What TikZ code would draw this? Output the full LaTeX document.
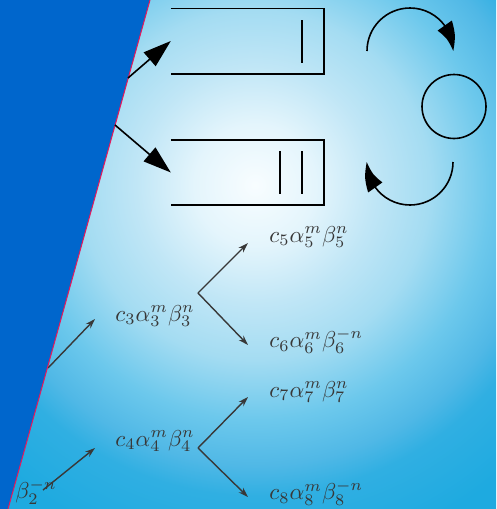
\documentclass[tikz,border=0pt]{standalone}
\usetikzlibrary{arrows.meta,bending}
\definecolor{bg0}{HTML}{F8FDFF}
\definecolor{bg1}{HTML}{E4F5FC}
\definecolor{bg2}{HTML}{C0E6F6}
\definecolor{bg3}{HTML}{A4DCF2}
\definecolor{bg4}{HTML}{6CC8EC}
\definecolor{bg5}{HTML}{50B8E6}
\definecolor{bg6}{HTML}{30AFE2}
\definecolor{bg7}{HTML}{1EAAE0}
\definecolor{panel}{HTML}{0066CC}
\definecolor{edgered}{HTML}{E8185A}
\definecolor{treegray}{HTML}{383838}
\pgfdeclareradialshading{bgshade}{\pgfpoint{0bp}{0bp}}{color(0bp)=(bg0); color(3.6bp)=(bg1); color(7.1bp)=(bg2); color(10.4bp)=(bg3); color(14bp)=(bg4); color(16.7bp)=(bg5); color(18.5bp)=(bg6); color(22.6bp)=(bg7); color(50bp)=(bg7)}
\tikzset{
  qline/.style={line width=1.6pt, black},
  bigarrow/.style={line width=1.6pt, -{Triangle[length=28pt,width=18pt]}},
  bentarrow/.style={line width=1.6pt, -{Triangle[length=28pt,width=17pt,bend]}},
  treearrow/.style={treegray, line width=1.4pt, -{Stealth[length=10pt,width=6.5pt]}},
  term/.style={treegray, scale=2.3, inner sep=0pt, anchor=west},
  slot/.style={minimum width=153pt, minimum height=65pt, inner sep=0pt},
}
\begin{document}
\begin{tikzpicture}[x=1pt,y=-1pt]
\useasboundingbox (0,0) rectangle (496,509);
\begin{scope}
\clip (0,0) rectangle (496,509);
\shade[shading=bgshade] (255,185) circle[radius=420pt];
\end{scope}

% tree of terms
\node[term] (c3) at (115,316) {$c_3\alpha_3^m\beta_3^n$};
\node[term] (c5) at (269,237) {$c_5\alpha_5^m\beta_5^n$};
\node[term] (c6) at (269,341) {$c_6\alpha_6^m\beta_6^{-n}$};
\node[term] (c4) at (115,441) {$c_4\alpha_4^m\beta_4^n$};
\node[term] (c7) at (269,392) {$c_7\alpha_7^m\beta_7^n$};
\node[term] (c8) at (269,493) {$c_8\alpha_8^m\beta_8^{-n}$};
\node[term] (b2) at (15,492) {$\beta_2^{-n}$};

\coordinate (s1) at (48,368);  \coordinate (t1) at (95,319);
\coordinate (s2) at (43,490);  \coordinate (t2) at (95,448);
\coordinate (v1) at (198,293);
\coordinate (u5) at (248,243); \coordinate (u6) at (248,345);
\coordinate (v2) at (198,448);
\coordinate (u7) at (248,397); \coordinate (u8) at (248,497);
\draw[treearrow] (s1) -- (t1);
\draw[treearrow] (s2) -- (t2);
\draw[treearrow] (v1) -- (u5);
\draw[treearrow] (v1) -- (u6);
\draw[treearrow] (v2) -- (u7);
\draw[treearrow] (v2) -- (u8);

% left panel
\fill[panel] (0,0) -- (150,0) -- (8,509) -- (0,509) -- cycle;
\draw[edgered, line width=1pt] (150,0) -- (8,509);

% queues
\node[slot] (q1) at (247.5,41) {};
\node[slot] (q2) at (247.5,172.5) {};
\draw[qline] (q1.north west) -- (q1.north east) -- (q1.south east) -- (q1.south west);
\draw[qline] (q2.north west) -- (q2.north east) -- (q2.south east) -- (q2.south west);
\coordinate (k1a) at (302,20); \coordinate (k1b) at (302,63);
\draw[qline] (k1a) -- (k1b);
\coordinate (k2a) at (280,151); \coordinate (k2b) at (280,194);
\coordinate (k3a) at (302,151); \coordinate (k3b) at (302,194);
\draw[qline] (k2a) -- (k2b);
\draw[qline] (k3a) -- (k3b);

\coordinate (e1) at (128,78);
\coordinate (e2) at (115,125);
\draw[bigarrow] (e1) -- (q1.west);
\draw[bigarrow] (e2) -- (q2.west);

% server with circulating arrows
\node[draw, circle, line width=1.6pt, minimum size=64pt, inner sep=0pt] (ring) at (454,106.5) {};
\draw[bentarrow] (367,51) arc[start angle=180, end angle=360, radius=43];
\draw[bentarrow] (453,162) arc[start angle=0, end angle=180, radius=43];
\end{tikzpicture}
\end{document}
